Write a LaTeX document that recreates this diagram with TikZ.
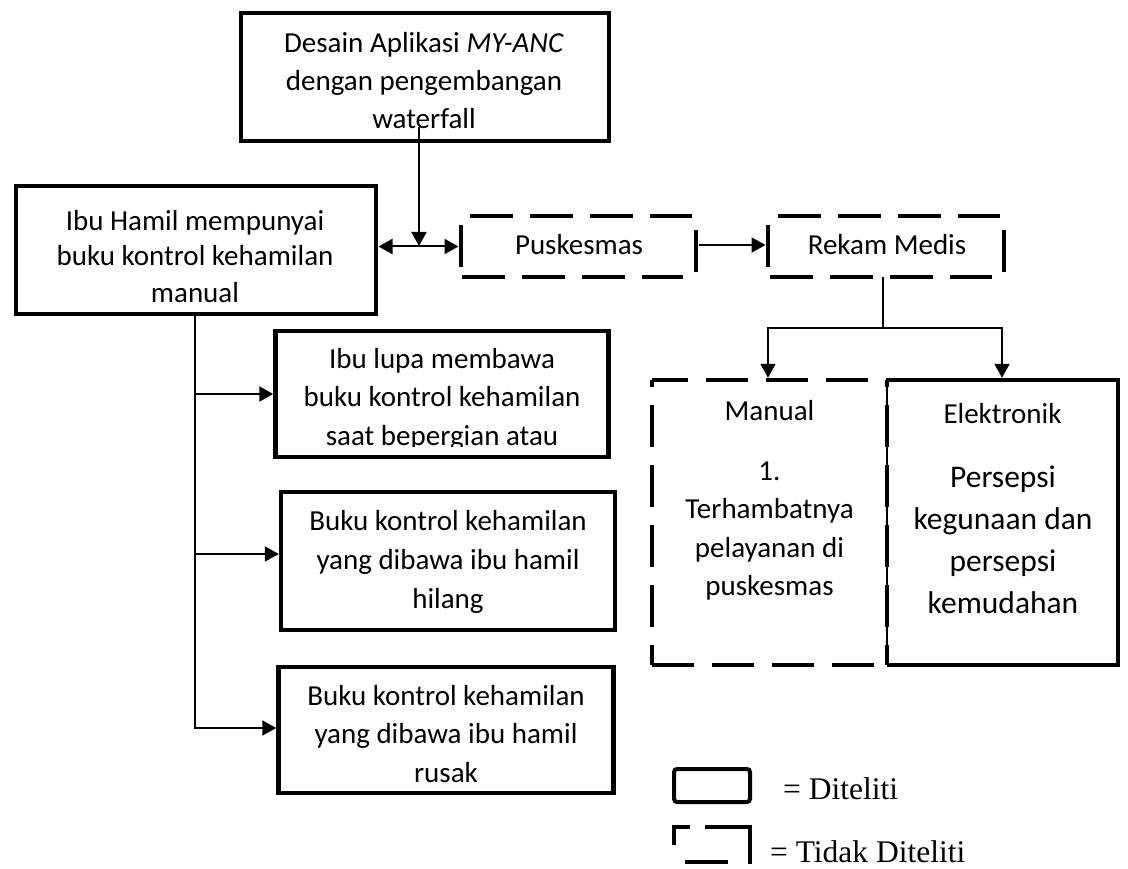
\documentclass[tikz,border=0pt]{standalone}
\usepackage{fontspec}
\setmainfont{Carlito}
\newfontfamily\legendfont{Liberation Serif}
\usetikzlibrary{arrows.meta,calc}
\newcommand\myfs[2]{\fontsize{#1pt}{#2pt}\selectfont}
\begin{document}
\begin{tikzpicture}[x=1pt,y=-1pt,
  bx/.style={draw, line width=4.5pt, inner sep=0pt, outer sep=0pt},
  ghost/.style={draw=none, inner sep=0pt, outer sep=0pt},
  txt/.style={inner sep=0pt, outer sep=0pt, align=center, anchor=base},
  dedge/.style={line width=4.5pt, dash pattern=on 43pt off 17pt},
  sedge/.style={line width=4.5pt},
  mdash/.style={line width=4.5pt, dash pattern=on 42pt off 18pt},
  conn/.style={line width=2pt},
  arr/.style={conn, -{Triangle[length=14pt,width=15pt]}},
  dbl/.style={conn, {Triangle[length=14pt,width=15pt]}-{Triangle[length=14pt,width=15pt]}},
  lgl/.style={line width=4pt},
]
\useasboundingbox (0,0) rectangle (1128,869);

% top box (text nodes are placed by the baseline of their last line)
\node[bx, minimum width=368pt, minimum height=128pt] (top) at (425,77) {};
\node[txt, font=\myfs{29}{38}] (toptext) at (424,129) {Desain Aplikasi \textit{MY-ANC}\\dengan pengembangan\\waterfall};

% left box
\node[bx, minimum width=360pt, minimum height=128pt] (ibu) at (196,250) {};
\node[txt, font=\myfs{29}{36}] (ibutext) at (195,302) {Ibu Hamil mempunyai\\buku kontrol kehamilan\\manual};

% Puskesmas
\node[ghost, minimum width=235pt, minimum height=61pt] (pk) at (578.5,246.5) {};
\node[txt, font=\myfs{29}{35}] (pktext) at (579,255) {Puskesmas};
\draw[dedge] ($(pk.north west)+(9,0)$) -- ($(pk.north east)+(-4,0)$);
\draw[dedge] ($(pk.south west)+(1,0)$) -- ($(pk.south east)+(-13,0)$);
\draw[sedge] ($(pk.north west)+(0,9)$) -- ($(pk.south west)+(0,-10)$);
\draw[sedge] ($(pk.north east)+(0,14)$) -- ($(pk.south east)+(0,-5)$);

% Rekam Medis
\node[ghost, minimum width=236pt, minimum height=61pt] (rm) at (886,246.5) {};
\node[txt, font=\myfs{29}{35}] (rmtext) at (887,255) {Rekam Medis};
\draw[dedge] ($(rm.north west)+(10,0)$) -- ($(rm.north east)+(-4,0)$);
\draw[dedge] ($(rm.south west)+(2,0)$) -- ($(rm.south east)+(-12,0)$);
\draw[sedge] ($(rm.north west)+(0,9)$) -- ($(rm.south west)+(0,-10)$);
\draw[sedge] ($(rm.north east)+(0,14)$) -- ($(rm.south east)+(0,-5)$);

% problem boxes
\node[bx, minimum width=333pt, minimum height=126pt] (b1) at (442,394) {};
\begin{scope}
  \clip ($(b1.north west)+(2.25,2.25)$) rectangle ($(b1.south east)+(-2.25,-11)$);
  \node[txt, font=\myfs{29}{38.5}] (b1text) at (442,445) {Ibu lupa membawa\\buku kontrol kehamilan\\saat bepergian atau};
\end{scope}
\node[bx, minimum width=334pt, minimum height=138pt] (b2) at (448,561) {};
\node[txt, font=\myfs{29}{39}] (b2text) at (448,608) {Buku kontrol kehamilan\\yang dibawa ibu hamil\\hilang};
\node[bx, minimum width=335pt, minimum height=126pt] (b3) at (446,730) {};
\node[txt, font=\myfs{29}{38.5}] (b3text) at (446,782) {Buku kontrol kehamilan\\yang dibawa ibu hamil\\rusak};

% Manual / Elektronik
\node[ghost, minimum width=231pt, minimum height=285pt] (elk) at (1002.5,522.5) {};
\draw[line width=4.5pt] (elk.north west) -- (elk.north east) -- (elk.south east) -- (elk.south west);
\draw[conn] (elk.south west) -- (elk.north west);
\node[ghost, minimum width=235pt, minimum height=285pt] (man) at (769.5,522.5) {};
\draw[mdash, dash phase=6pt] (man.north west) -- (man.north east);
\draw[mdash, dash phase=35pt] (man.north west) -- (man.south west);
\draw[mdash] (man.south west) -- (man.south east);
\draw[mdash, dash phase=35pt] (man.north east) -- (man.south east);
\node[txt, font=\myfs{29}{38.5}] (mantitle) at (769.5,420) {Manual};
\node[txt, font=\myfs{29}{38.5}] (mantext) at (769.5,595.5) {1.\\Terhambatnya\\pelayanan di\\puskesmas};
\node[txt, font=\myfs{29}{35}] (elktitle) at (1002.5,423) {Elektronik};
\node[txt, font=\myfs{31.5}{42}] (elktext) at (1003,613) {Persepsi\\kegunaan dan\\persepsi\\kemudahan};

% connectors
\coordinate (j1) at ($(top.south)+(-6,105)$);
\draw[arr] ($(top.south)+(-6,-14)$) -- (j1);
\draw[dbl] ($(ibu.east |- pk.west)+(2.5,0)$) -- ($(pk.west)+(-2.5,0)$);
\draw[arr] ($(pk.east)+(2.5,-1.5)$) -- ($(rm.west)+(-2.5,-1.5)$);
\coordinate (sp) at ($(rm.south)+(-3,51)$);
\draw[conn] ($(rm.south)+(-3,0)$) -- (sp);
\draw[arr] (sp) -| ($(man.north)+(-1.5,-2.25)$);
\draw[arr] (sp) -| ($(elk.north)+(-0.5,-2.25)$);
\draw[arr] ($(ibu.south)+(-1,2.25)$) |- ($(b3.west)+(-2.25,-2)$);
\draw[arr] ($(ibu.south |- b1.west)+(-1,0)$) -- ($(b1.west)+(-2.25,0)$);
\draw[arr] ($(ibu.south |- b2.west)+(-1,-7)$) -- ($(b2.west)+(-2.25,-7)$);

% legend
\node[draw, line width=4pt, rounded corners=3pt, inner sep=0pt, minimum width=76pt, minimum height=33pt] (leg1) at (712,785.5) {};
\node[anchor=base west, inner sep=0pt, font=\legendfont\myfs{31.5}{36}] (leg1text) at (783,799) {= Diteliti};
\node[ghost, minimum width=75.5pt, minimum height=35pt] (leg2) at (711.75,844.5) {};
\draw[lgl] ($(leg2.south west)+(0,-17)$) -- (leg2.north west) -- ($(leg2.north west)+(16,0)$);
\draw[lgl] ($(leg2.north east)+(-44.5,0)$) -- (leg2.north east) -- ($(leg2.south east)+(0,2)$);
\draw[lgl] ($(leg2.south west)+(11,0)$) -- ($(leg2.south west)+(54,0)$);
\node[anchor=base west, inner sep=0pt, font=\legendfont\myfs{31.5}{36}] (leg2text) at (770,862) {= Tidak Diteliti};
\end{tikzpicture}
\end{document}
